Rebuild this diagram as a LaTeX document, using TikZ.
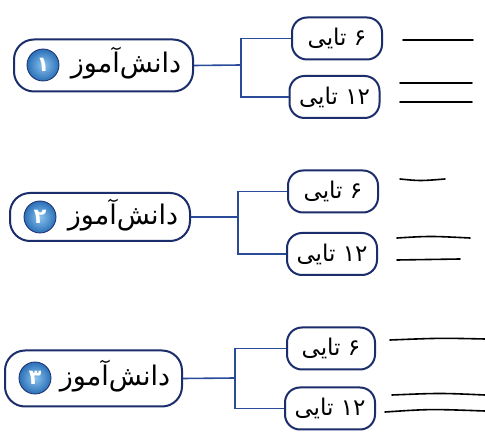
\documentclass[tikz,border=0pt]{standalone}
\usepackage{fontspec}
\newfontfamily\fa[Script=Arabic]{DejaVu Sans}
\TeXXeTstate=1
\definecolor{navy}{HTML}{1C2D6B}
\definecolor{wire}{HTML}{2A4A9A}
\definecolor{badgein}{HTML}{8CC3EE}
\definecolor{badgeout}{HTML}{2A70B8}
\tikzset{
  mainbox/.style={draw=navy, line width=2pt, rounded corners=20pt, minimum height=52pt, inner sep=0pt},
  smallbox/.style={draw=navy, line width=2pt, rounded corners=15pt, minimum width=90pt, minimum height=42pt, inner sep=0pt, font=\fa\fontsize{23}{26}\selectfont},
  maintext/.style={inner sep=0pt, font=\fa\fontsize{27}{30}\selectfont},
  badge/.style={circle, draw=navy, line width=0.8pt, inner color=badgein, outer color=badgeout, minimum size=32pt, inner sep=0pt, text=white, font=\fa\bfseries\fontsize{21}{22}\selectfont},
  wireline/.style={draw=wire, line width=1.6pt},
  answer/.style={draw=black, line width=1.6pt, line cap=round}
}
\begin{document}
\begin{tikzpicture}[x=1pt,y=-1pt]
\useasboundingbox (0,0) rectangle (485,438);
\fill[white] (0,0) rectangle (485,438);
% group 1
\node[mainbox, minimum width=179pt] (m1) at (103.5,65.5) {};
\node[badge] (b1) at (43,65) {\beginR ۱\endR};
\node[maintext] (t1) at (126,63) {\beginR دانش‌آموز\endR};
\node[smallbox] (s1) at (337,38.5) {\beginR ۶ تایی\endR};
\node[smallbox] (l1) at (334.5,97) {\beginR\beginL ۱۲\endL{} تایی\endR};
\coordinate (j1) at (241,65);
\draw[wireline] (m1.east) -- (j1);
\draw[wireline] (s1.west) -| (j1) |- (l1.west);
\draw[answer] (403,40) -- (473,40);
\draw[answer] (400,83) -- (472,83);
\draw[answer] (400,102) -- (472,102);
% group 2
\node[mainbox, minimum width=180pt, minimum height=48pt] (m2) at (100,217) {};
\node[badge] (b2) at (40,217) {\beginR ۲\endR};
\node[maintext] (t2) at (123,215) {\beginR دانش‌آموز\endR};
\node[smallbox] (s2) at (333,191.5) {\beginR ۶ تایی\endR};
\node[smallbox] (l2) at (332,254) {\beginR\beginL ۱۲\endL{} تایی\endR};
\coordinate (j2) at (238,217);
\draw[wireline] (m2.east) -- (j2);
\draw[wireline] (s2.west) -| (j2) |- (l2.west);
\draw[answer] (400,179) .. controls (420,181) .. (445,179);
\draw[answer] (397,238) .. controls (430,236) .. (470,238);
\draw[answer] (397,260) -- (460,259);
% group 3
\node[mainbox, minimum width=177pt, minimum height=56pt] (m3) at (93.5,378.5) {};
\node[badge] (b3) at (35,378) {\beginR ۳\endR};
\node[maintext] (t3) at (115,376) {\beginR دانش‌آموز\endR};
\node[smallbox, minimum width=88pt] (s3) at (331,348.5) {\beginR ۶ تایی\endR};
\node[smallbox] (l3) at (330,408.5) {\beginR\beginL ۱۲\endL{} تایی\endR};
\coordinate (j3) at (235,378);
\draw[wireline] (m3.east) -- (j3);
\draw[wireline] (s3.west) -| (j3) |- (l3.west);
\draw[answer] (390,340) .. controls (440,338) .. (485,339);
\draw[answer] (392,395) .. controls (440,393) .. (485,395);
\draw[answer] (385,412) .. controls (430,409) .. (485,411);
\end{tikzpicture}
\end{document}
